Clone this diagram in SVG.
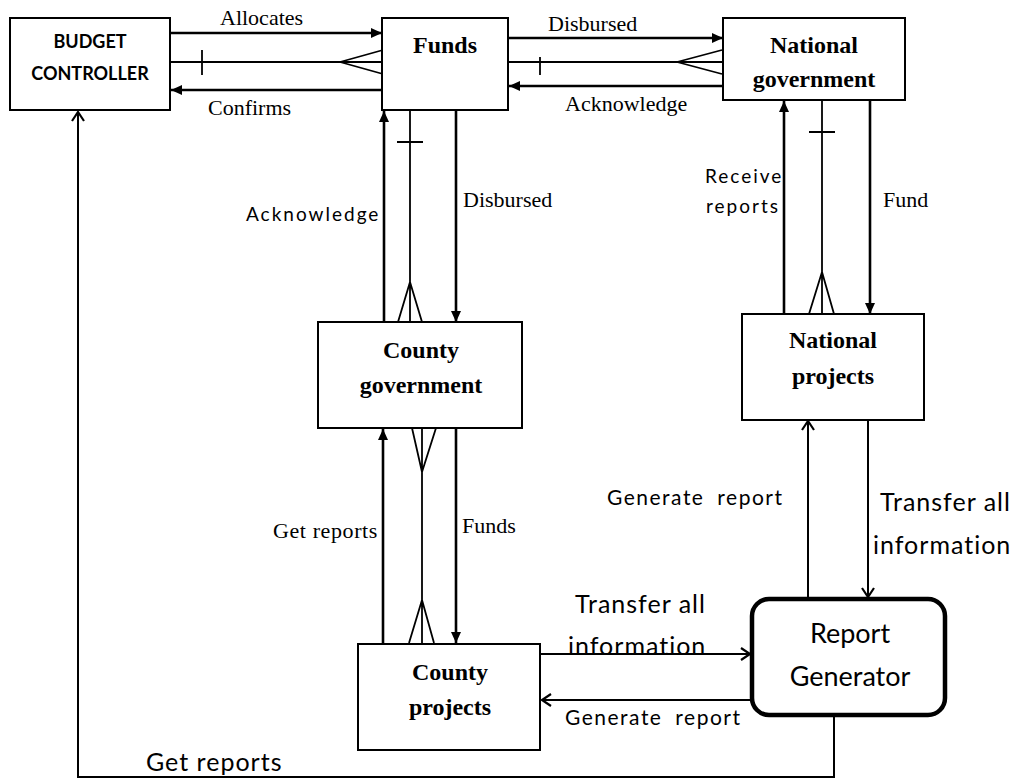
<svg xmlns="http://www.w3.org/2000/svg" width="1024" height="780" viewBox="0 0 1024 780">
  <defs>
    <marker id="solid" markerUnits="userSpaceOnUse" markerWidth="12" markerHeight="10" refX="11" refY="5" orient="auto">
      <path d="M0,0 L11,5 L0,10 z" fill="#000"/>
    </marker>
    <marker id="open" markerUnits="userSpaceOnUse" markerWidth="12" markerHeight="14" refX="10" refY="7" orient="auto">
      <path d="M1,1 L10,7 L1,13" fill="none" stroke="#000" stroke-width="2.2"/>
    </marker>
    <style>
      .box { fill: #fff; stroke: #000; stroke-width: 2; }
      .rbox { fill: #fff; stroke: #000; stroke-width: 4.5; }
      .flow { fill: none; stroke: #000; stroke-width: 2.6; marker-end: url(#solid); }
      .oflow { fill: none; stroke: #000; stroke-width: 2; marker-end: url(#open); }
      .rel { fill: none; stroke: #000; stroke-width: 1.8; }
      .nb { font-family: "Liberation Serif", "Times New Roman", serif; font-weight: bold; font-size: 24px; text-anchor: middle; fill: #000; }
      .lbl { font-family: "Liberation Serif", "Times New Roman", serif; font-size: 22px; fill: #000; }
      .sl { font-family: Lato, "Liberation Sans", sans-serif; font-size: 19px; letter-spacing: 2px; fill: #000; }
      .gen { font-family: Lato, "Liberation Sans", sans-serif; font-size: 21px; letter-spacing: 1.5px; word-spacing: 6px; fill: #000; }
      .big { font-family: Lato, "Liberation Sans", sans-serif; font-size: 25px; letter-spacing: 1px; fill: #000; }
    </style>
  </defs>

  <!-- connectors -->
  <g id="connectors">
    <!-- Budget controller <-> Funds -->
    <line class="flow" x1="170" y1="33" x2="382" y2="33"/>
    <line class="flow" x1="382" y1="90" x2="171" y2="90"/>
    <path class="rel" d="M170,62 H382 M202,50 V75 M340,62 L383,50 M340,62 L383,74"/>

    <!-- Funds <-> National government -->
    <line class="flow" x1="508" y1="38" x2="723" y2="38"/>
    <line class="flow" x1="723" y1="86" x2="509" y2="86"/>
    <path class="rel" d="M508,62 H723 M540,57 V75 M677,62 L722,50 M677,62 L722,74"/>

    <!-- Funds <-> County government -->
    <line class="flow" x1="384" y1="323" x2="384" y2="111"/>
    <line class="flow" x1="456" y1="110" x2="456" y2="322"/>
    <path class="rel" d="M410,110 V322 M397,142 H423 M410,282 L398,322 M410,282 L422,322"/>

    <!-- County government <-> County projects -->
    <line class="flow" x1="383" y1="643" x2="383" y2="429"/>
    <line class="flow" x1="456" y1="428" x2="456" y2="643"/>
    <path class="rel" d="M422,428 V643 M412,428 L422,472 M436,428 L422,472 M422,600 L409,643 M422,600 L434,643"/>

    <!-- National government <-> National projects -->
    <line class="flow" x1="784" y1="314" x2="784" y2="101"/>
    <line class="flow" x1="870" y1="100" x2="870" y2="314"/>
    <path class="rel" d="M822,100 V314 M809,132 H835 M822,272 L809,314 M822,272 L834,314"/>

    <!-- National projects <-> Report generator -->
    <line class="oflow" x1="808" y1="599" x2="808" y2="421"/>
    <line class="oflow" x1="868" y1="420" x2="868" y2="597"/>

    <!-- County projects <-> Report generator -->
    <line class="oflow" x1="540" y1="654" x2="750" y2="654"/>
    <line class="oflow" x1="752" y1="700" x2="542" y2="700"/>

    <!-- Report generator -> Budget controller -->
    <polyline class="oflow" points="834,715 834,777 78,777 78,112"/>

    <!-- flow labels -->
    <text class="lbl" x="220" y="25">Allocates</text>
    <text class="lbl" x="208" y="115">Confirms</text>
    <text class="lbl" x="548" y="31">Disbursed</text>
    <text class="lbl" x="565" y="111">Acknowledge</text>
    <text class="sl" x="246" y="221">Acknowledge</text>
    <text class="lbl" x="463" y="207">Disbursed</text>
    <text class="sl" x="705" y="183">Receive</text>
    <text class="sl" x="706" y="213">reports</text>
    <text class="lbl" x="883" y="207">Fund</text>
    <text class="lbl" x="273" y="538" letter-spacing="0.6">Get reports</text>
    <text class="lbl" x="462" y="533">Funds</text>
    <text class="gen" x="607" y="505">Generate report</text>
    <text class="big" x="880" y="511">Transfer all</text>
    <text class="big" x="873" y="554">information</text>
    <text class="big" x="575" y="613">Transfer all</text>
    <text class="big" x="568" y="655">information</text>
    <text class="gen" x="565" y="725">Generate report</text>
    <text class="big" x="146" y="771">Get reports</text>
  </g>

  <!-- nodes -->
  <g id="budget-controller">
    <rect class="box" x="10" y="18" width="160" height="92"/>
    <text x="90" y="48" font-family="Lato, 'Liberation Sans', sans-serif" font-weight="bold" font-size="18" text-anchor="middle">BUDGET</text>
    <text x="90" y="80" font-family="Lato, 'Liberation Sans', sans-serif" font-weight="bold" font-size="18" text-anchor="middle">CONTROLLER</text>
  </g>

  <g id="funds">
    <rect class="box" x="382" y="18" width="126" height="92"/>
    <text class="nb" x="445" y="53">Funds</text>
  </g>

  <g id="national-government">
    <rect class="box" x="723" y="18" width="182" height="82"/>
    <text class="nb" x="814" y="53">National</text>
    <text class="nb" x="814" y="87">government</text>
  </g>

  <g id="county-government">
    <rect class="box" x="318" y="322" width="204" height="106"/>
    <text class="nb" x="421" y="358">County</text>
    <text class="nb" x="421" y="393">government</text>
  </g>

  <g id="national-projects">
    <rect class="box" x="742" y="314" width="182" height="106"/>
    <text class="nb" x="833" y="348">National</text>
    <text class="nb" x="833" y="384">projects</text>
  </g>

  <g id="county-projects">
    <rect class="box" x="358" y="644" width="182" height="106"/>
    <text class="nb" x="450" y="680">County</text>
    <text class="nb" x="450" y="715">projects</text>
  </g>

  <g id="report-generator">
    <rect class="rbox" x="752" y="599" width="193" height="116" rx="17" ry="17"/>
    <text x="850" y="643" font-family="Lato, 'Liberation Sans', sans-serif" font-size="27" text-anchor="middle">Report</text>
    <text x="850" y="686" font-family="Lato, 'Liberation Sans', sans-serif" font-size="27" text-anchor="middle">Generator</text>
  </g>
</svg>
